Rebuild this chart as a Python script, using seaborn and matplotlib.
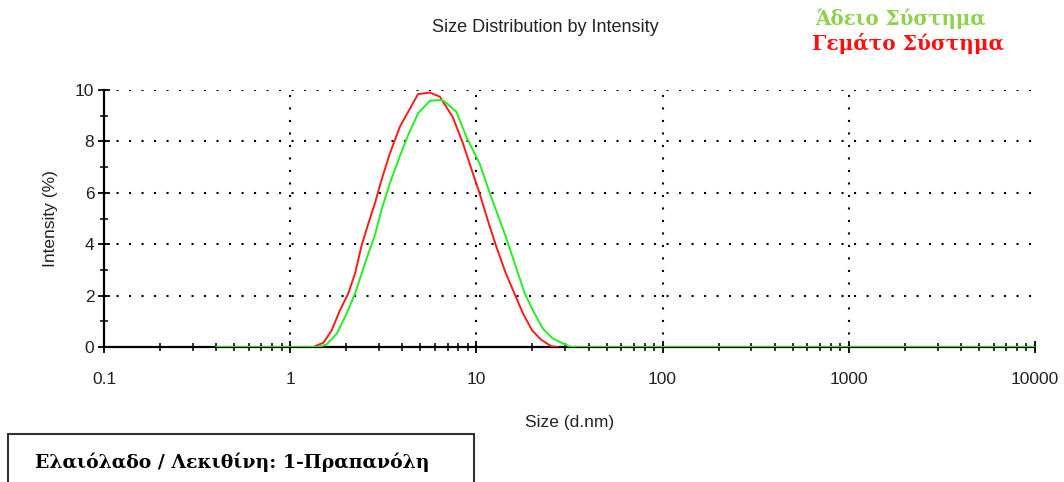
import matplotlib
matplotlib.use("Agg")
import matplotlib.pyplot as plt
import matplotlib.patches as mpatches
from matplotlib.ticker import LogLocator, FixedLocator, NullFormatter
import seaborn as sns
import pandas as pd

# ---- data ----
empty_size = [0.4, 1.42, 1.57, 1.78, 2.01, 2.23, 2.42, 2.63, 2.85, 3.09, 3.43, 3.88,
              4.30, 4.86, 5.62, 6.48, 6.75, 7.81, 8.83, 10.4, 12.0, 14.4, 16.3,
              18.2, 20.1, 22.7, 25.7, 30.5, 32.2, 10000]
empty_int = [0, 0, 0.10, 0.52, 1.30, 2.08, 2.86, 3.64, 4.35, 5.33, 6.37, 7.43,
             8.25, 9.09, 9.58, 9.61, 9.55, 9.15, 8.18, 7.14, 5.84, 4.28, 3.12,
             2.08, 1.43, 0.72, 0.33, 0.07, 0, 0]

full_size = [1.36, 1.51, 1.67, 1.85, 2.05, 2.23, 2.42, 2.63, 2.85, 3.09, 3.43, 3.88,
             4.30, 4.86, 5.62, 6.36, 7.47, 8.47, 9.38, 10.4, 11.5, 12.8, 14.3,
             16.0, 17.8, 19.9, 22.2, 25.2, 27.5]
full_int = [0.03, 0.17, 0.65, 1.43, 2.08, 2.86, 3.96, 4.81, 5.59, 6.49, 7.53, 8.57,
            9.15, 9.84, 9.90, 9.74, 8.94, 7.92, 6.95, 5.98, 4.94, 3.90, 2.92,
            2.08, 1.30, 0.65, 0.29, 0.03, 0]

x_ticks = [0.1, 1, 10, 100, 1000, 10000]
x_tick_labels = ["0.1", "1", "10", "100", "1000", "10000"]
y_ticks = [0, 2, 4, 6, 8, 10]

title = "Size Distribution by Intensity"
x_label = "Size (d.nm)"
y_label = "Intensity (%)"
legend_empty = "Άδειο Σύστημα"
legend_full = "Γεμάτο Σύστημα"
caption = "Ελαιόλαδο / Λεκιθίνη: 1-Πραπανόλη"

sns.set_style("white")
plt.rcParams["font.family"] = ["Liberation Sans", "DejaVu Sans"]

fig = plt.figure(figsize=(10.64, 4.82), dpi=100)
ax = fig.add_axes([104/1064, 1-347/482, (1035-104)/1064, (347-90)/482])

df_empty = pd.DataFrame({"size": empty_size, "intensity": empty_int})
df_full = pd.DataFrame({"size": full_size, "intensity": full_int})

ax.set_xscale("log")
ax.set_xlim(0.1, 10000)
ax.set_ylim(0, 10)

# baseline (black) along the axis
ax.axhline(0, color="black", lw=1.6, zorder=2, clip_on=False)

sns.lineplot(data=df_full, x="size", y="intensity", ax=ax, color="#ff1a1a",
             lw=1.4, estimator=None, sort=False, zorder=4)
sns.lineplot(data=df_empty, x="size", y="intensity", ax=ax, color="#22ee22",
             lw=1.4, estimator=None, sort=False, zorder=5)

# dotted grid
for xv in x_ticks[1:-1]:
    ax.axvline(xv, color="black", lw=1.5, ls=(0, (1, 5)), zorder=1)
for yv in y_ticks[1:]:
    ax.axhline(yv, color="black", lw=1.5, ls=(0, (1, 5)), zorder=1)

for s in ["top", "right", "bottom"]:
    ax.spines[s].set_visible(False)
ax.spines["left"].set_linewidth(1.6)
ax.spines["left"].set_color("black")

ax.xaxis.set_major_locator(FixedLocator(x_ticks))
ax.set_xticklabels(x_tick_labels)
ax.xaxis.set_minor_locator(LogLocator(base=10, subs=range(2, 10)))
ax.xaxis.set_minor_formatter(NullFormatter())
ax.set_yticks(y_ticks)
ax.yaxis.set_minor_locator(FixedLocator([1, 3, 5, 7, 9]))

ax.tick_params(axis="both", which="major", direction="inout", length=8, width=1.3,
               color="black", labelsize=12.5, labelcolor="#222222")
ax.tick_params(axis="both", which="minor", direction="inout", length=6, width=1.1,
               color="black")
ax.tick_params(axis="x", which="major", pad=14)
ax.tick_params(axis="y", which="major", pad=3)
ax.tick_params(axis="x", which="both", bottom=True)
ax.tick_params(axis="y", which="both", left=True)

ax.set_xlabel(x_label, fontsize=12.5, color="#222222", labelpad=20)
ax.set_ylabel(y_label, fontsize=12.5, color="#222222", labelpad=12)

fig.text(545/1064, 1-27/482, title, ha="center", va="center", fontsize=13,
         color="#222222")

serif = ["DejaVu Serif", "Liberation Serif"]
fig.text(815/1064, 1-19/482, legend_empty, ha="left", va="center", fontsize=14.3,
         fontweight="bold", color="#8ed24e", family=serif)
fig.text(812/1064, 1-44/482, legend_full, ha="left", va="center", fontsize=14.5,
         fontweight="bold", color="#ff1010", family=serif)

rect = mpatches.Rectangle((8/1064, -0.05), (474-8)/1064, (1-434/482)+0.05,
                          transform=fig.transFigure, fill=False, ec="#333333",
                          lw=1.5)
fig.patches.append(rect)
fig.text(35/1064, 1-462/482, caption, ha="left", va="center", fontsize=13.6,
         fontweight="bold", color="black", family=serif)

fig.savefig("out.png", dpi=100)
